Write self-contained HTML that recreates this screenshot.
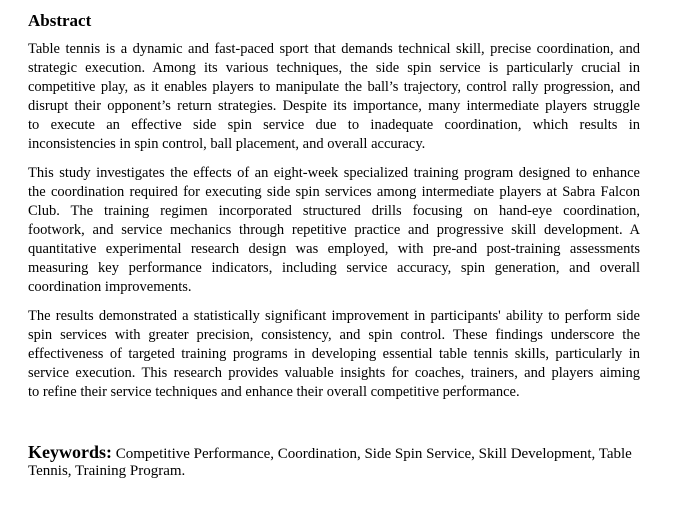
<!DOCTYPE html>
<html><head><meta charset="utf-8"><style>
html,body{margin:0;padding:0;background:#fff;}
body{width:678px;height:522px;position:relative;overflow:hidden;font-family:"Liberation Serif",serif;color:#000;}
.l{position:absolute;left:28px;width:612px;font-size:14.5px;line-height:19px;height:19px;white-space:nowrap;text-align:justify;text-align-last:justify;}
.l.e{text-align-last:left;}
h1{position:absolute;left:28px;top:10px;margin:0;font-size:17px;line-height:22px;font-weight:bold;}
.kw{font-size:18px;font-weight:bold;}
</style></head><body>
<h1>Abstract</h1>
<div>
<div class="l" style="top:40px">Table tennis is a dynamic and fast-paced sport that demands technical skill, precise coordination, and</div>
<div class="l" style="top:59px">strategic execution. Among its various techniques, the side spin service is particularly crucial in</div>
<div class="l" style="top:78px;letter-spacing:-0.1px">competitive play, as it enables players to manipulate the ball’s trajectory, control rally progression, and</div>
<div class="l" style="top:97px">disrupt their opponent’s return strategies. Despite its importance, many intermediate players struggle</div>
<div class="l" style="top:116px">to execute an effective side spin service due to inadequate coordination, which results in</div>
<div class="l e" style="top:135px">inconsistencies in spin control, ball placement, and overall accuracy.</div>
</div>
<div>
<div class="l" style="top:164px">This study investigates the effects of an eight-week specialized training program designed to enhance</div>
<div class="l" style="top:183px">the coordination required for executing side spin services among intermediate players at Sabra Falcon</div>
<div class="l" style="top:202px">Club. The training regimen incorporated structured drills focusing on hand-eye coordination,</div>
<div class="l" style="top:221px">footwork, and service mechanics through repetitive practice and progressive skill development. A</div>
<div class="l" style="top:240px">quantitative experimental research design was employed, with pre-and post-training assessments</div>
<div class="l" style="top:259px">measuring key performance indicators, including service accuracy, spin generation, and overall</div>
<div class="l e" style="top:278px">coordination improvements.</div>
</div>
<div>
<div class="l" style="top:307px">The results demonstrated a statistically significant improvement in participants' ability to perform side</div>
<div class="l" style="top:326px">spin services with greater precision, consistency, and spin control. These findings underscore the</div>
<div class="l" style="top:345px">effectiveness of targeted training programs in developing essential table tennis skills, particularly in</div>
<div class="l" style="top:364px">service execution. This research provides valuable insights for coaches, trainers, and players aiming</div>
<div class="l e" style="top:383px">to refine their service techniques and enhance their overall competitive performance.</div>
</div>
<div>
<div class="l e" style="top:441px;height:22px;line-height:22px;font-size:15px"><span class="kw">Keywords:</span> Competitive Performance, Coordination, Side Spin Service, Skill Development, Table</div>
<div class="l e" style="top:462px;font-size:15px">Tennis, Training Program.</div>
</div>
</body></html>
